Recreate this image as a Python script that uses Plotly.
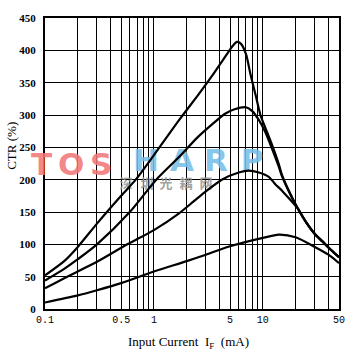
import plotly.graph_objects as go
import math

# ---------------- data ----------------
c1_x = [0.1, 0.15, 0.2, 0.3, 0.5, 0.68, 1.0, 1.7, 2.6, 3.4, 4.5, 5.3, 5.8, 6.3, 7.0, 7.7, 8.6, 9.5, 10.5, 12.0, 14.0, 15.0, 18.0, 21.0, 25.0, 30.0, 35.0, 40.0, 45.0, 50.0]
c1_y = [52, 74, 96, 132, 175, 200, 238, 292, 333, 360, 390, 407, 413, 410, 394, 363, 330, 300, 281, 256, 224, 207, 177, 155, 134, 116, 105, 95, 87, 80]

c2_x = [0.1, 0.15, 0.2, 0.3, 0.6, 1.05, 1.7, 2.5, 3.5, 4.5, 5.5, 7.0, 8.0, 9.2, 10.5, 12.0, 14.0, 15.0, 18.0, 21.0, 25.0, 30.0, 35.0, 40.0, 45.0, 50.0]
c2_y = [44, 62, 77, 100, 150, 200, 235, 265, 287, 302, 309, 312, 306, 292, 274, 250, 220, 205, 176, 155, 134, 116, 105, 95, 87, 80]

c3_x = [0.1, 0.16, 0.3, 0.57, 1.0, 1.7, 2.3, 3.0, 4.2, 6.0, 7.4, 9.2, 11.4, 13.0, 15.0, 18.0, 21.0, 25.0, 30.0, 35.0, 40.0, 45.0, 50.0]
c3_y = [32, 50, 73, 100, 122, 148, 166, 182, 200, 211, 214, 211, 204, 193, 183, 168, 155, 134, 116, 105, 95, 87, 80]

c4_x = [0.1, 0.2, 0.3, 0.5, 1.0, 2.0, 3.0, 5.0, 10.0, 14.0, 20.0, 30.0, 40.0, 50.0]
c4_y = [10, 21, 29, 40, 58, 74, 84, 97, 110, 115, 111, 96, 84, 71]

curves = [(c1_x, c1_y), (c2_x, c2_y), (c3_x, c3_y), (c4_x, c4_y)]

grid_x = [0.1, 0.2, 0.3, 0.4, 0.5, 0.6, 0.7, 0.8, 0.9,
          1, 2, 3, 4, 5, 6, 7, 8, 9,
          10, 20, 30, 40, 50]
x_labels = {0.1: "0.1", 0.5: "0.5", 1: "1", 5: "5", 10: "10", 50: "50"}
y_ticks = [0, 50, 100, 150, 200, 250, 300, 350, 400, 450]

# ---------------- layout geometry ----------------
W, H = 364, 356
L, R, T, B = 45, 25, 13, 47
PW, PH = W - L - R, H - T - B
XMIN, XMAX = -1.0, math.log10(50)
YMIN, YMAX = 0, 450


def px2x(px):
    return 10 ** (XMIN + (px - L) / PW * (XMAX - XMIN))


def py2y(py):
    return YMIN + (T + PH - py) / PH * (YMAX - YMIN)


def pxp(px):
    return (px - L) / PW


def pyp(py):
    return (T + PH - py) / PH


fig = go.Figure()

# watermark
wm_pink = [("T", 41), ("O", 71), ("S", 101)]
wm_blue = [("H", 146), ("A", 182), ("R", 216), ("P", 252)]
wm_cn = [("深", 126), ("圳", 147), ("光", 166), ("耦", 186), ("网", 206)]
PINK = "rgba(242,120,120,0.9)"
BLUE = "rgba(120,190,232,0.9)"

fig.add_trace(go.Scatter(
    x=[px2x(p) for _, p in wm_blue], y=[py2y(161)] * len(wm_blue),
    text=[c for c, _ in wm_blue], mode="text",
    textfont=dict(family="DejaVu Sans", size=31, color=BLUE, weight="bold"),
    hoverinfo="skip", showlegend=False, cliponaxis=False))
fig.add_trace(go.Scatter(
    x=[px2x(p) for _, p in wm_cn], y=[py2y(183)] * len(wm_cn),
    text=[c for c, _ in wm_cn], mode="text",
    textfont=dict(family="Noto Sans CJK SC", size=13, color="rgba(150,150,150,0.9)", weight="bold"),
    hoverinfo="skip", showlegend=False, cliponaxis=False))

for ch, p in wm_pink:
    fig.add_annotation(text=ch, xref="paper", yref="paper", x=pxp(p), y=pyp(161),
                       showarrow=False, xanchor="center", yanchor="middle",
                       font=dict(family="DejaVu Sans", size=31, color=PINK, weight="bold"))

for xs, ys in curves:
    fig.add_trace(go.Scatter(
        x=xs, y=ys, mode="lines",
        line=dict(color="black", width=2.2, shape="spline", smoothing=0.7),
        hoverinfo="skip", showlegend=False))

fig.update_xaxes(
    type="log", range=[XMIN, XMAX],
    tickvals=grid_x, ticktext=[x_labels.get(v, "") for v in grid_x],
    showgrid=True, gridcolor="black", gridwidth=1.2,
    showline=True, linecolor="black", linewidth=2, mirror=True,
    ticks="", tickfont=dict(family="Liberation Mono", size=10, color="black"),
    zeroline=False, fixedrange=True)
fig.update_yaxes(
    range=[YMIN, YMAX], tickvals=y_ticks,
    showgrid=True, gridcolor="black", gridwidth=1.2,
    showline=True, linecolor="black", linewidth=2, mirror=True,
    ticks="", ticklabelstandoff=5,
    tickfont=dict(family="Liberation Serif", size=11, color="black", weight="bold"),
    zeroline=False, fixedrange=True)

fig.add_annotation(text="CTR (%)", xref="paper", yref="paper",
                   x=pxp(12), y=pyp(143), textangle=-90,
                   showarrow=False, xanchor="center", yanchor="middle",
                   font=dict(family="Liberation Serif", size=13, color="black"))
fig.add_annotation(text="Input Current  I<sub>F</sub>  (mA)", xref="paper", yref="paper",
                   x=pxp(188), y=pyp(343),
                   showarrow=False, xanchor="center", yanchor="middle",
                   font=dict(family="Liberation Serif", size=13, color="black"))

fig.update_layout(
    width=W, height=H, margin=dict(l=L, r=R, t=T, b=B),
    paper_bgcolor="white", plot_bgcolor="white",
    showlegend=False)

fig.write_html("out.html")
